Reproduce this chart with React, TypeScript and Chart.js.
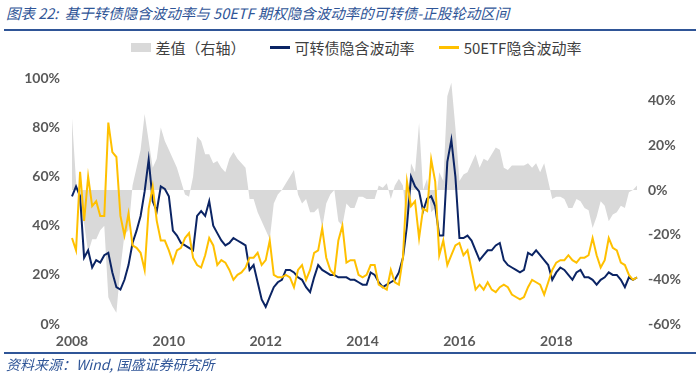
import React, { useEffect, useRef } from 'react';
import { Chart, registerables } from 'chart.js';

Chart.register(...registerables);

const START_YEAR = 2008;

// 可转债隐含波动率 (monthly, %), Jan 2008 -> Sep 2019
const cbIV = [
  52, 56, 52, 27, 30, 23, 26, 25, 28, 29,
  21, 15, 14, 18, 24, 33, 38, 44, 54, 67,
  50, 46, 56, 55, 52, 38, 36, 33, 32, 31,
  30, 44, 46, 44, 50, 40, 37, 34, 32, 33,
  35, 34, 33, 32, 22, 24, 17, 10, 7, 11,
  15, 17, 18, 22, 22, 21, 19, 18, 15, 13,
  19, 24, 22, 21, 20, 20, 19, 19, 19, 18,
  18, 17, 16, 16, 21, 20, 17, 15, 16, 17,
  18, 21, 27, 40, 60, 56, 54, 46, 51, 52,
  48, 36, 36, 66, 75, 60, 35, 35, 36, 34,
  30, 26, 28, 30, 30, 32, 33, 26, 24, 23,
  22, 21, 22, 29, 28, 30, 28, 26, 24, 18,
  21, 23, 22, 20, 18, 21, 22, 19, 19, 18,
  16, 18, 19, 21, 20, 20, 18, 15, 19, 18,
  19,
];

// 50ETF隐含波动率 (monthly, %)
const etfIV = [
  35, 30, 62, 42, 60, 48, 50, 44, 44, 82,
  70, 68, 44, 36, 45, 32, 31, 29, 22, 47,
  56, 42, 34, 34, 30, 25, 30, 31, 35, 37,
  27, 24, 23, 28, 35, 32, 24, 26, 25, 22,
  18, 20, 21, 23, 27, 27, 29, 24, 26, 34,
  20, 19, 19, 20, 19, 15, 22, 24, 18, 22,
  29, 30, 39, 27, 22, 20, 34, 40, 25, 26,
  26, 20, 19, 20, 24, 24, 16, 15, 14, 22,
  17, 16, 27, 58, 48, 50, 35, 47, 46, 67,
  58, 28, 34, 24, 28, 32, 33, 28, 30, 22,
  14, 16, 14, 17, 14, 13, 15, 16, 15, 12,
  11, 10, 11, 15, 18, 17, 16, 12, 17, 22,
  25, 26, 26, 28, 26, 25, 27, 27, 28, 35,
  28, 23, 26, 35, 31, 30, 25, 24, 20, 18,
  19,
];

// 差值（右轴）(monthly, %)
const spread = [
  32, 4, -8, -15, -28, -22, -22, -18, -16, -48,
  -52, -55, -35, -20, -18, 2, 10, 18, 34, 22,
  10, 14, 28, 22, 18, 14, 10, 4, -2, -3,
  6, 24, 22, 16, 16, 12, 13, 10, 8, 14,
  17, 14, 12, 10, -4, -4, -10, -14, -18, -22,
  -6, -2, 0, 3, 6, 9, -2, -6, -4, -10,
  -10, -8, -17, -6, -2, 0, -14, -16, -6, -8,
  -8, -3, -3, -4, -4, -4, 2, 1, 3, -4,
  2, 5, 2, -16, 12, 8, 30, 0, 5, -10,
  -8, 8, 4, 42, 48, 28, 4, 7, 8, 12,
  16, 10, 14, 13, 16, 19, 18, 10, 9, 11,
  11, 11, 11, 12, 10, 12, 8, 12, 4, -4,
  -3, -3, -4, -8, -8, -4, -5, -8, -9, -17,
  -12, -5, -7, -14, -11, -10, -7, -8, -1, 0,
  2,
];

const yearTickLabels = ['2008', '2010', '2012', '2014', '2016', '2018'];

const monthLabels = cbIV.map(
  (_, i) => `${START_YEAR + Math.floor(i / 12)}-${String((i % 12) + 1).padStart(2, '0')}`
);

const NAVY = '#0b2464';
const GOLD = '#FFC000';
const GRAY = '#d9d9d9';
const BLUE = '#2f5597';
const TICK = '#595959';
const tickFont = { family: 'Lato, "Liberation Sans", sans-serif', size: 14, weight: 'bold' as const };

export default function App() {
  const ref = useRef<HTMLCanvasElement>(null);

  useEffect(() => {
    if (!ref.current) return;
    const chart = new Chart(ref.current, {
      type: 'line',
      data: {
        labels: monthLabels,
        datasets: [
          {
            label: '差值（右轴）',
            data: spread,
            yAxisID: 'y1',
            fill: 'origin',
            backgroundColor: GRAY,
            borderColor: GRAY,
            borderWidth: 0,
            pointRadius: 0,
            tension: 0,
            order: 3,
          },
          {
            label: '可转债隐含波动率',
            data: cbIV,
            yAxisID: 'y',
            fill: false,
            borderColor: NAVY,
            backgroundColor: NAVY,
            borderWidth: 2,
            pointRadius: 0,
            tension: 0,
            order: 2,
          },
          {
            label: '50ETF隐含波动率',
            data: etfIV,
            yAxisID: 'y',
            fill: false,
            borderColor: GOLD,
            backgroundColor: GOLD,
            borderWidth: 2,
            pointRadius: 0,
            tension: 0,
            order: 1,
          },
        ],
      },
      options: {
        responsive: false,
        animation: false,
        layout: { padding: { top: 7, bottom: 8, left: 0, right: 0 } },
        plugins: { legend: { display: false }, tooltip: { enabled: false } },
        scales: {
          x: {
            type: 'category',
            grid: { display: false, drawTicks: false },
            border: { display: false },
            ticks: {
              autoSkip: false,
              maxRotation: 0,
              minRotation: 0,
              padding: 9,
              color: TICK,
              font: tickFont,
              callback: (_v: any, i: number) => {
                const [yy, mm] = monthLabels[i].split('-');
                return mm === '01' && yearTickLabels.includes(yy) ? yy : '';
              },
            },
            afterFit: (s: any) => {
              s.height = 26;
            },
          },
          y: {
            position: 'left',
            min: 0,
            max: 100,
            grid: { display: false, drawTicks: false },
            border: { display: false },
            ticks: {
              stepSize: 20,
              padding: 12,
              color: TICK,
              font: tickFont,
              callback: (v: any) => `${v}%`,
            },
            afterFit: (s: any) => {
              s.width = 72;
            },
          },
          y1: {
            position: 'right',
            min: -60,
            max: 50,
            grid: { display: false, drawTicks: false },
            border: { display: false },
            ticks: {
              stepSize: 20,
              padding: 11,
              color: TICK,
              font: tickFont,
              callback: (v: any) => `${v}%`,
            },
            afterBuildTicks: (s: any) => {
              s.ticks = s.ticks.filter((t: any) => t.value <= 40);
            },
            afterFit: (s: any) => {
              s.width = 63;
            },
          },
        },
      },
    } as any);
    return () => chart.destroy();
  }, []);

  const cjk = '"Noto Sans CJK SC", "Noto Sans", sans-serif';
  const legendItem = (swatch: React.ReactNode, text: string, gapAfter: number) => (
    <div style={{ display: 'flex', alignItems: 'center', marginRight: gapAfter }}>
      {swatch}
      <span style={{ marginLeft: 5 }}>{text}</span>
    </div>
  );

  return (
    <div
      style={{
        position: 'absolute',
        left: 0,
        top: 0,
        width: 700,
        height: 377,
        background: '#fff',
        overflow: 'hidden',
      }}
    >
      <div
        style={{
          position: 'absolute',
          left: 6,
          top: 3,
          fontFamily: cjk,
          fontStyle: 'italic',
          fontSize: 14.5,
          color: BLUE,
          whiteSpace: 'nowrap',
          lineHeight: '20px',
        }}
      >
        图表 22:&nbsp;&nbsp;基于转债隐含波动率与 50ETF 期权隐含波动率的可转债-正股轮动区间
      </div>
      <div style={{ position: 'absolute', left: 4, top: 29, width: 692, height: 2, background: BLUE }} />
      <div
        style={{
          position: 'absolute',
          left: 0,
          top: 37,
          width: 700,
          height: 20,
          display: 'flex',
          justifyContent: 'center',
          alignItems: 'center',
          paddingLeft: 12,
          boxSizing: 'border-box',
          fontFamily: cjk,
          fontSize: 15,
          color: '#404040',
          whiteSpace: 'nowrap',
        }}
      >
        {legendItem(<div style={{ width: 20, height: 9, background: GRAY }} />, '差值（右轴）', 24)}
        {legendItem(<div style={{ width: 20, height: 3, background: NAVY }} />, '可转债隐含波动率', 24)}
        {legendItem(<div style={{ width: 20, height: 3, background: GOLD }} />, '50ETF隐含波动率', 0)}
      </div>
      <canvas
        ref={ref}
        width={700}
        height={300}
        style={{ position: 'absolute', left: 0, top: 58, width: 700, height: 300 }}
      />
      <div style={{ position: 'absolute', left: 4, top: 352, width: 692, height: 2, background: BLUE }} />
      <div
        style={{
          position: 'absolute',
          left: 6,
          top: 355,
          fontFamily: cjk,
          fontStyle: 'italic',
          fontSize: 14,
          color: BLUE,
          whiteSpace: 'nowrap',
          lineHeight: '19px',
        }}
      >
        资料来源：Wind, 国盛证券研究所
      </div>
    </div>
  );
}
